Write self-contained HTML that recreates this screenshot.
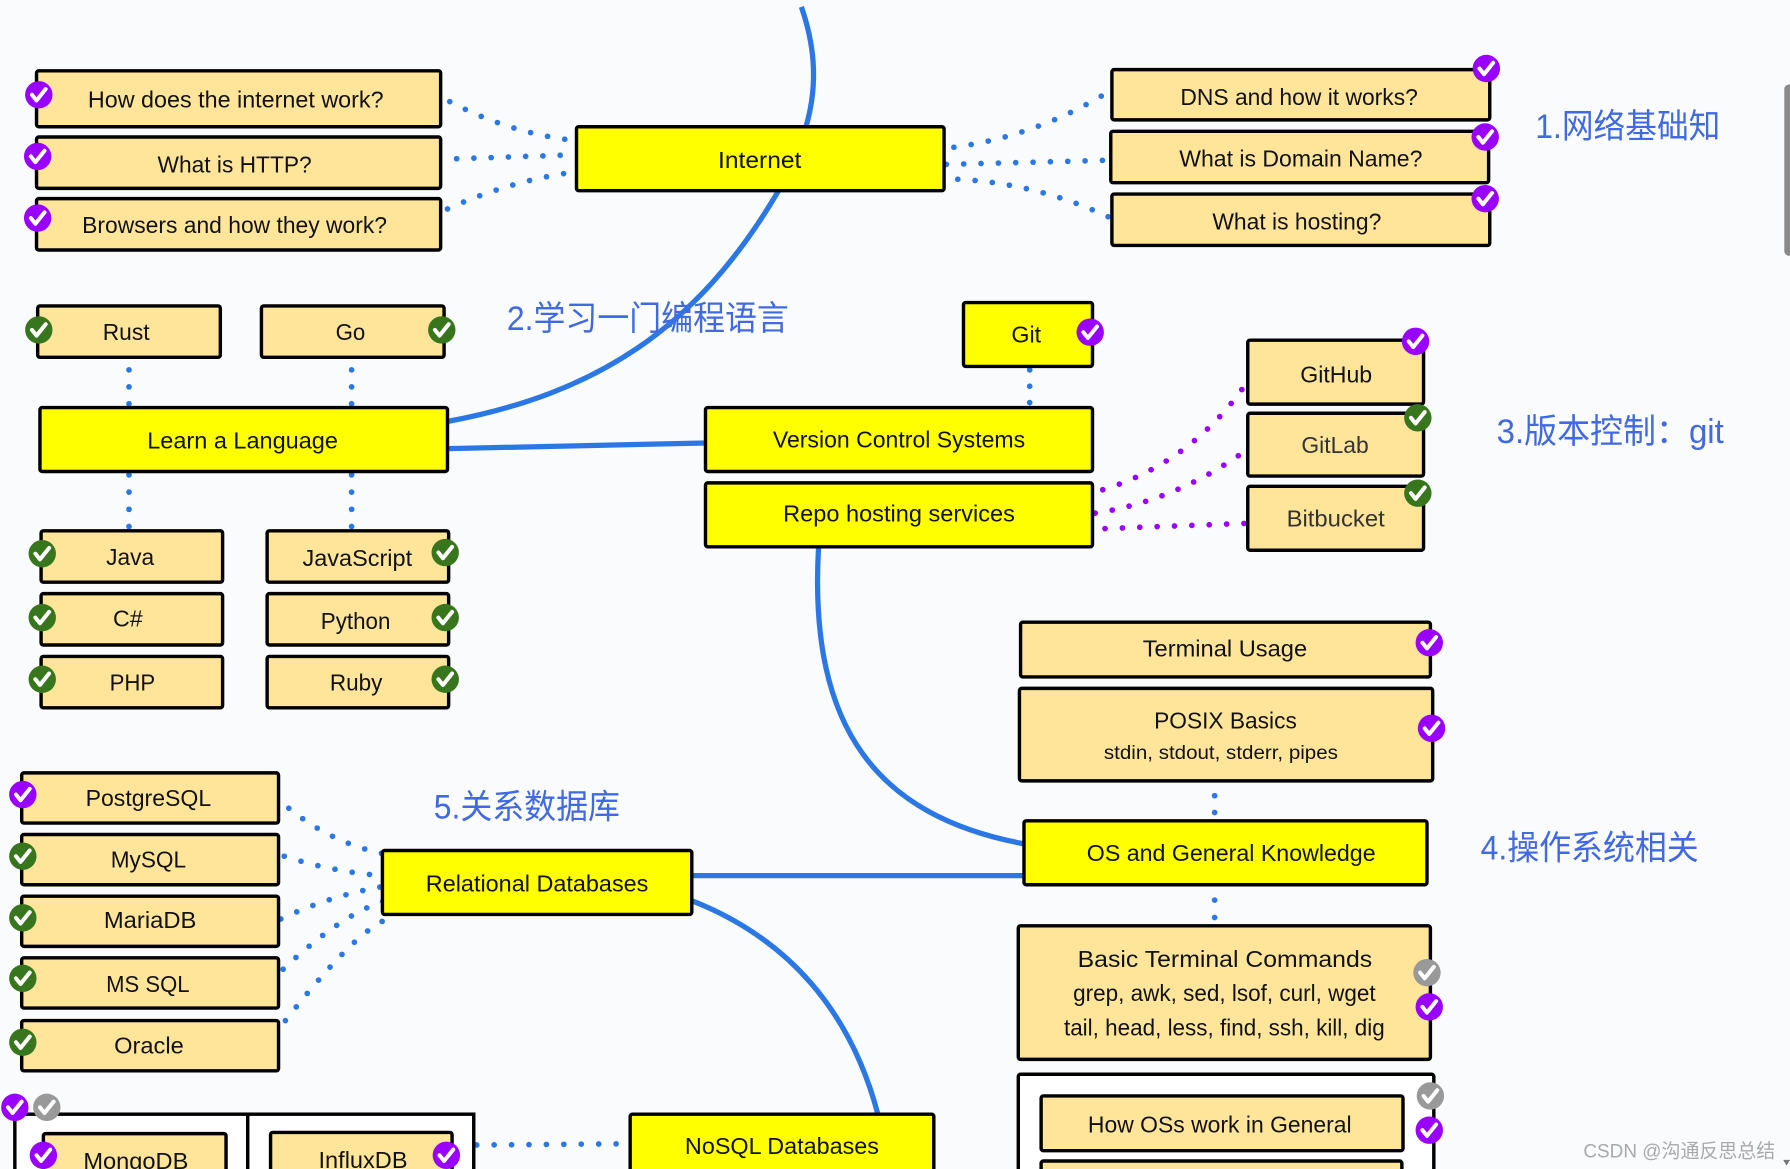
<!DOCTYPE html>
<html lang="zh"><head><meta charset="utf-8"><title>Roadmap</title>
<style>
html,body{margin:0;padding:0;width:1790px;height:1169px;overflow:hidden;background:#fafbfd}
svg{display:block}
text{font-family:"Liberation Sans","Noto Sans CJK SC",sans-serif;fill:#111}
.c{fill:#ffe599;stroke:#000;stroke-width:3}
.y{fill:#ff0;stroke:#000;stroke-width:3}
.w{fill:#fff;stroke:#000;stroke-width:3}
.t{font-size:20px}
.s{font-size:17px}
.l{font-size:30px;fill:#4169e1}
.m{fill:none;stroke:#2b78e4;stroke-width:4.6}
.d{fill:none;stroke:#2b78e4;stroke-width:5;stroke-linecap:round;stroke-dasharray:0 1}
.p{fill:none;stroke:#9900ff;stroke-width:5;stroke-linecap:round;stroke-dasharray:0 1}
.k{fill:none;stroke:#fff;stroke-width:3.5;stroke-linecap:round;stroke-linejoin:round}
</style></head><body>
<svg width="1790" height="1169" viewBox="0 0 1568 1024" xmlns="http://www.w3.org/2000/svg">
<defs>
<g id="pu"><circle r="12" fill="#9900ff"/><path class="k" d="M-6 0L-2 5L6-5"/></g>
<g id="gr"><circle r="12" fill="#38761d"/><path class="k" d="M-6 0L-2 5L6-5"/></g>
<g id="gy"><circle r="12" fill="#999"/><path class="k" d="M-6 0L-2 5L6-5"/></g>
</defs>
<rect width="1568" height="1024" fill="#fafbfd"/>

<!-- main connectors -->
<path class="m" d="M702 6C712 35 718 70 706 111"/>
<path class="m" d="M682 167C610 290 520 345 393 369"/>
<path class="m" d="M393 393L618 388"/>
<path class="m" d="M717 480C708 640 770 715 896 739"/>
<path class="m" d="M606 767L896 767"/>
<path class="m" d="M606 789C690 822 745 885 769 976"/>

<!-- dotted connectors -->
<path class="d" pathLength="7.02" d="M394 89Q442.500 114.500 495 122"/>
<path class="d" pathLength="6.02" d="M400 139L491 136"/>
<path class="d" pathLength="7.02" d="M392 183Q442 160.500 494 152"/>
<path class="d" pathLength="9.02" d="M835.600 129Q905 119.500 965 84"/>
<path class="d" pathLength="9.02" d="M829 144L966 140.500"/>
<path class="d" pathLength="9.02" d="M839 157Q908 160.500 971 190"/>
<path class="d" pathLength="2.02" d="M113 324V354"/>
<path class="d" pathLength="2.02" d="M308 324V354"/>
<path class="d" pathLength="3.02" d="M113 416V461.500"/>
<path class="d" pathLength="3.02" d="M308 416V461.500"/>
<path class="d" pathLength="2.02" d="M902 324V353"/>
<path class="d" pathLength="1.02" d="M1064 697V712"/>
<path class="d" pathLength="1.02" d="M1064 788.500V804"/>
<path class="d" pathLength="6.02" d="M253 708Q290 738 334.500 747.500"/>
<path class="d" pathLength="5.02" d="M249 750Q286 762 324 766"/>
<path class="d" pathLength="6.02" d="M246 805Q288.500 785 333 777"/>
<path class="d" pathLength="7.02" d="M248 849Q298 802 335.500 789.500"/>
<path class="d" pathLength="8.02" d="M250 894Q307.500 820.700 335 807"/>
<path class="d" pathLength="8.02" d="M417.600 1003L540 1002"/>
<path class="p" pathLength="10.02" d="M966 429Q1041 406 1088 341"/>
<path class="p" pathLength="9.02" d="M959.400 449.500Q1027 439 1085 399"/>
<path class="p" pathLength="8.02" d="M968 463L1090 458.500"/>

<!-- white containers -->
<rect class="w" x="13" y="976" width="204" height="70"/>
<rect class="w" x="217" y="976" width="198" height="70"/>
<rect class="w" x="892" y="941" width="364" height="110" rx="2"/>

<!-- nodes -->
<g>
<rect class="c" x="32" y="62" width="354" height="49" rx="2"/>
<rect class="c" x="32" y="120" width="354" height="45" rx="2"/>
<rect class="c" x="32" y="174" width="354" height="45" rx="2"/>
<rect class="c" x="974" y="61" width="331" height="44" rx="2"/>
<rect class="c" x="973" y="115" width="331" height="45" rx="2"/>
<rect class="c" x="974" y="170" width="331" height="45" rx="2"/>
<rect class="c" x="33" y="268" width="160" height="45" rx="2"/>
<rect class="c" x="229" y="268" width="160" height="45" rx="2"/>
<rect class="c" x="36" y="465" width="159" height="45" rx="2"/>
<rect class="c" x="234" y="465" width="159" height="45" rx="2"/>
<rect class="c" x="36" y="520" width="159" height="45" rx="2"/>
<rect class="c" x="234" y="520" width="159" height="45" rx="2"/>
<rect class="c" x="36" y="575" width="159" height="45" rx="2"/>
<rect class="c" x="234" y="575" width="159" height="45" rx="2"/>
<rect class="c" x="1093" y="298" width="154" height="56" rx="2"/>
<rect class="c" x="1093" y="362" width="154" height="55" rx="2"/>
<rect class="c" x="1093" y="426" width="154" height="56" rx="2"/>
<rect class="c" x="894" y="545" width="359" height="48" rx="2"/>
<rect class="c" x="893" y="603" width="362" height="81" rx="2"/>
<rect class="c" x="892" y="811" width="361" height="117" rx="2"/>
<rect class="c" x="912" y="960" width="317" height="48" rx="2"/>
<rect class="c" x="912" y="1017" width="316" height="40" rx="2"/>
<rect class="c" x="19" y="677" width="225" height="44" rx="2"/>
<rect class="c" x="19" y="731" width="225" height="44" rx="2"/>
<rect class="c" x="19" y="785" width="225" height="44" rx="2"/>
<rect class="c" x="19" y="839" width="225" height="44" rx="2"/>
<rect class="c" x="19" y="894" width="225" height="44" rx="2"/>
<rect class="c" x="38" y="993" width="160" height="50" rx="2"/>
<rect class="c" x="237" y="992" width="159" height="50" rx="2"/>
<rect class="y" x="505" y="111" width="322" height="56" rx="2"/>
<rect class="y" x="35" y="357" width="357" height="56" rx="2"/>
<rect class="y" x="844" y="265" width="113" height="56" rx="2"/>
<rect class="y" x="618" y="357" width="339" height="56" rx="2"/>
<rect class="y" x="618" y="423" width="339" height="56" rx="2"/>
<rect class="y" x="897" y="719" width="353" height="56" rx="2"/>
<rect class="y" x="335" y="745" width="271" height="56" rx="2"/>
<rect class="y" x="552" y="976" width="266" height="70" rx="2"/>
</g>

<!-- node text -->
<text class="t" x="77" y="94" textLength="259" lengthAdjust="spacingAndGlyphs">How does the internet work?</text>
<text class="t" x="138" y="151" textLength="135" lengthAdjust="spacingAndGlyphs">What is HTTP?</text>
<text class="t" x="72" y="204" textLength="267" lengthAdjust="spacingAndGlyphs">Browsers and how they work?</text>
<text class="t" x="629" y="147" textLength="73" lengthAdjust="spacingAndGlyphs">Internet</text>
<text class="t" x="1034" y="92" textLength="208" lengthAdjust="spacingAndGlyphs">DNS and how it works?</text>
<text class="t" x="1033" y="146" textLength="213" lengthAdjust="spacingAndGlyphs">What is Domain Name?</text>
<text class="t" x="1062" y="201" textLength="148" lengthAdjust="spacingAndGlyphs">What is hosting?</text>
<text class="t" x="90" y="298" textLength="41" lengthAdjust="spacingAndGlyphs">Rust</text>
<text class="t" x="294" y="298" textLength="26" lengthAdjust="spacingAndGlyphs">Go</text>
<text class="t" x="129" y="393" textLength="167" lengthAdjust="spacingAndGlyphs">Learn a Language</text>
<text class="t" x="93" y="495" textLength="42" lengthAdjust="spacingAndGlyphs">Java</text>
<text class="t" x="265" y="496" textLength="96" lengthAdjust="spacingAndGlyphs">JavaScript</text>
<text class="t" x="99" y="549" textLength="26" lengthAdjust="spacingAndGlyphs">C#</text>
<text class="t" x="281" y="551" textLength="61" lengthAdjust="spacingAndGlyphs">Python</text>
<text class="t" x="96" y="605" textLength="40" lengthAdjust="spacingAndGlyphs">PHP</text>
<text class="t" x="289" y="605" textLength="46" lengthAdjust="spacingAndGlyphs">Ruby</text>
<text class="t" x="886" y="300" textLength="26" lengthAdjust="spacingAndGlyphs">Git</text>
<text class="t" x="677" y="392" textLength="221" lengthAdjust="spacingAndGlyphs">Version Control Systems</text>
<text class="t" x="686" y="457" textLength="203" lengthAdjust="spacingAndGlyphs">Repo hosting services</text>
<text class="t" x="1139" y="335" textLength="63" lengthAdjust="spacingAndGlyphs">GitHub</text>
<text class="t" x="1140" y="397" textLength="59" lengthAdjust="spacingAndGlyphs" style="fill:#333">GitLab</text>
<text class="t" x="1127" y="461" textLength="86" lengthAdjust="spacingAndGlyphs" style="fill:#333">Bitbucket</text>
<text class="t" x="1001" y="575" textLength="144" lengthAdjust="spacingAndGlyphs">Terminal Usage</text>
<text class="t" x="1011" y="638" textLength="125" lengthAdjust="spacingAndGlyphs">POSIX Basics</text>
<text class="s" x="967" y="665" textLength="205" lengthAdjust="spacingAndGlyphs">stdin, stdout, stderr, pipes</text>
<text class="t" x="952" y="754" textLength="253" lengthAdjust="spacingAndGlyphs">OS and General Knowledge</text>
<text class="t" x="944" y="847" textLength="258" lengthAdjust="spacingAndGlyphs">Basic Terminal Commands</text>
<text class="t" x="940" y="877" textLength="265" lengthAdjust="spacingAndGlyphs">grep, awk, sed, lsof, curl, wget</text>
<text class="t" x="932" y="907" textLength="281" lengthAdjust="spacingAndGlyphs">tail, head, less, find, ssh, kill, dig</text>
<text class="t" x="953" y="992" textLength="231" lengthAdjust="spacingAndGlyphs">How OSs work in General</text>
<text class="t" x="75" y="706" textLength="110" lengthAdjust="spacingAndGlyphs">PostgreSQL</text>
<text class="t" x="97" y="760" textLength="66" lengthAdjust="spacingAndGlyphs">MySQL</text>
<text class="t" x="91" y="813" textLength="81" lengthAdjust="spacingAndGlyphs">MariaDB</text>
<text class="t" x="93" y="869" textLength="73" lengthAdjust="spacingAndGlyphs">MS SQL</text>
<text class="t" x="100" y="923" textLength="61" lengthAdjust="spacingAndGlyphs">Oracle</text>
<text class="t" x="373" y="781" textLength="195" lengthAdjust="spacingAndGlyphs">Relational Databases</text>
<text class="t" x="600" y="1011" textLength="170" lengthAdjust="spacingAndGlyphs">NoSQL Databases</text>
<text class="t" x="73" y="1024" textLength="92" lengthAdjust="spacingAndGlyphs">MongoDB</text>
<text class="t" x="279" y="1023" textLength="78" lengthAdjust="spacingAndGlyphs">InfluxDB</text>

<!-- badges -->
<use href="#pu" x="34" y="83"/><use href="#pu" x="33" y="137"/><use href="#pu" x="33" y="191"/>
<use href="#pu" x="1302" y="60"/><use href="#pu" x="1301" y="120"/><use href="#pu" x="1301" y="174"/>
<use href="#pu" x="955" y="291"/><use href="#pu" x="1240" y="299"/><use href="#pu" x="1252" y="563"/>
<use href="#pu" x="1254" y="638"/><use href="#pu" x="1252" y="882"/><use href="#pu" x="1252" y="990"/>
<use href="#pu" x="20" y="696"/><use href="#pu" x="13" y="970"/><use href="#pu" x="38" y="1012"/><use href="#pu" x="391" y="1012"/>
<use href="#gr" x="34" y="289"/><use href="#gr" x="387" y="289"/><use href="#gr" x="37" y="485"/><use href="#gr" x="390" y="484"/>
<use href="#gr" x="37" y="541"/><use href="#gr" x="390" y="541"/><use href="#gr" x="37" y="595"/><use href="#gr" x="390" y="595"/>
<use href="#gr" x="1242" y="366"/><use href="#gr" x="1242" y="432"/>
<use href="#gr" x="20" y="750"/><use href="#gr" x="20" y="804"/><use href="#gr" x="20" y="857"/><use href="#gr" x="20" y="913"/>
<use href="#gy" x="1250" y="852"/><use href="#gy" x="1253" y="960"/><use href="#gy" x="41" y="970"/>

<!-- annotation labels -->
<text class="l" x="1345" y="121" textLength="162" lengthAdjust="spacingAndGlyphs">1.网络基础知</text>
<text class="l" x="444" y="289" textLength="247" lengthAdjust="spacingAndGlyphs">2.学习一门编程语言</text>
<text class="l" x="1311" y="388" textLength="199" lengthAdjust="spacingAndGlyphs">3.版本控制：git</text>
<text class="l" x="1297" y="753" textLength="191" lengthAdjust="spacingAndGlyphs">4.操作系统相关</text>
<text class="l" x="380" y="717" textLength="163" lengthAdjust="spacingAndGlyphs">5.关系数据库</text>

<!-- watermark and scrollbar -->
<text x="1387" y="1014" font-size="17" textLength="168" lengthAdjust="spacingAndGlyphs" style="fill:#a9a9a9">CSDN @沟通反思总结</text>
<rect x="1563" y="74" width="8" height="150" rx="4" fill="#8a8a8a"/>
<path d="M1562 1016L1568 1016L1565 1021Z" fill="#777"/>
</svg>
</body></html>
